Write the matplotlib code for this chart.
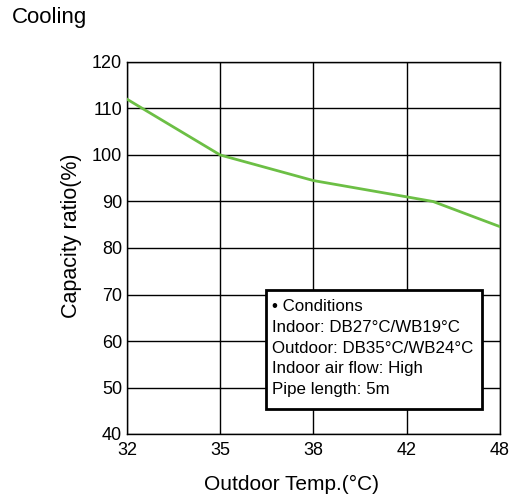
import numpy as np
import matplotlib
matplotlib.use('Agg')
import matplotlib.pyplot as plt
from matplotlib.patches import Rectangle

plt.rcParams['font.family'] = ['Liberation Sans', 'DejaVu Sans']

# tick labels on the x axis (evenly spaced in the original chart)
tick_temps = [32, 35, 38, 42, 48]
# curve
temps = [32, 35, 38, 42, 43.7, 48]
capacity = [112, 100, 94.5, 91, 90, 84.6]

y_ticks = [40, 50, 60, 70, 80, 90, 100, 110, 120]

conditions = ['\u2022 Conditions',
              'Indoor: DB27\u00b0C/WB19\u00b0C',
              'Outdoor: DB35\u00b0C/WB24\u00b0C',
              'Indoor air flow: High',
              'Pipe length: 5m']

fig = plt.figure(figsize=(5.09, 5.0), dpi=100)
ax = fig.add_axes([0.2495, 0.132, 0.7325, 0.744])

# temperatures sit on an evenly spaced axis
pos = np.interp(temps, tick_temps, np.arange(len(tick_temps)))
ax.plot(pos, capacity, color='#6cbf45', linewidth=2, zorder=3)

ax.set_xlim(0, len(tick_temps) - 1)
ax.set_ylim(40, 120)
ax.set_xticks(np.arange(len(tick_temps)))
ax.set_xticklabels([str(t) for t in tick_temps])
ax.set_yticks(y_ticks)
ax.tick_params(length=0, labelsize=13)
ax.tick_params(axis='y', pad=3.5)
ax.tick_params(axis='x', pad=6)
ax.grid(True, color='black', linewidth=1)
for s in ax.spines.values():
    s.set_linewidth(1)

ax.set_xlabel('Outdoor Temp.(\u00b0C)', fontsize=15, va='center')
ax.xaxis.set_label_coords(0.442, -0.137)
ax.set_ylabel('Capacity ratio(%)', fontsize=15.5, va='center')
ax.yaxis.set_label_coords(-0.150, 0.532)

fig.text(12 / 509, 1 - 18 / 500, 'Cooling', fontsize=16, va='center', ha='left')

# conditions box
ax.add_patch(Rectangle((0.372, 0.067), 0.579, 0.32, transform=ax.transAxes,
                       facecolor='white', edgecolor='black', linewidth=2,
                       zorder=4))
for i, line in enumerate(conditions):
    ax.text(0.388, 0.342 - i * 0.0555, line, transform=ax.transAxes,
            fontsize=12.2, va='center', ha='left', zorder=5)

plt.savefig('out.png', dpi=100)
